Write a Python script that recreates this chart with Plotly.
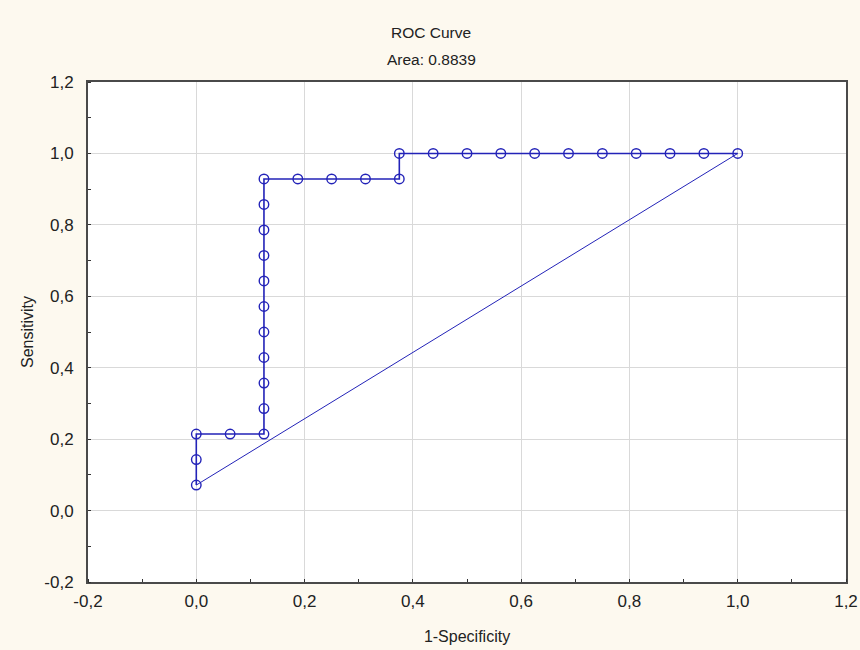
import plotly.graph_objects as go

# 1-Specificity (x) and Sensitivity (y) of the ROC points
fpr = [0.0, 0.0, 0.0, 0.0625, 0.125, 0.125, 0.125, 0.125, 0.125, 0.125, 0.125,
       0.125, 0.125, 0.125, 0.125, 0.1875, 0.25, 0.3125, 0.375, 0.375, 0.4375,
       0.5, 0.5625, 0.625, 0.6875, 0.75, 0.8125, 0.875, 0.9375, 1.0]
tpr = [0.0714, 0.1429, 0.2143, 0.2143, 0.2143, 0.2857, 0.3571, 0.4286, 0.5,
       0.5714, 0.6429, 0.7143, 0.7857, 0.8571, 0.9286, 0.9286, 0.9286, 0.9286,
       0.9286, 1.0, 1.0, 1.0, 1.0, 1.0, 1.0, 1.0, 1.0, 1.0, 1.0, 1.0]
ref_x = [0.0, 1.0]
ref_y = [0.0714, 1.0]
tick_vals = [-0.2, 0.0, 0.2, 0.4, 0.6, 0.8, 1.0, 1.2]
tick_text = [f"{v:.1f}".replace(".", ",") for v in tick_vals]

title_line1 = "ROC Curve"
title_line2 = "Area: 0.8839"
x_title = "1-Specificity"
y_title = "Sensitivity"

blue = "#2323B8"
font = "Liberation Sans, Arial, sans-serif"
txt = "#222222"

fig = go.Figure()
fig.add_trace(go.Scatter(x=ref_x, y=ref_y, mode="lines",
                         line=dict(color=blue, width=1), showlegend=False,
                         hoverinfo="skip"))
fig.add_trace(go.Scatter(x=fpr, y=tpr, mode="lines+markers",
                         line=dict(color=blue, width=1.6),
                         marker=dict(symbol="circle-open", size=9.5,
                                     color=blue, line=dict(width=1.4, color=blue)),
                         showlegend=False))

axis_common = dict(
    range=[-0.2, 1.2], tickvals=tick_vals, ticktext=tick_text,
    showgrid=True, gridcolor="#D9D9D9", gridwidth=1,
    showline=True, linecolor="#4A4A4A", linewidth=2, mirror=True,
    ticks="", zeroline=False,
    tickfont=dict(family=font, size=17, color=txt),
    minor=dict(dtick=0.1, tick0=-0.2, ticks="inside", ticklen=3,
               tickcolor="#333333", showgrid=False),
)

fig.update_layout(
    width=860, height=650,
    paper_bgcolor="#FDF9EF", plot_bgcolor="#FFFFFF",
    margin=dict(l=88, r=14, t=82, b=68, autoexpand=False),
    xaxis=dict(**axis_common, ticklabelstandoff=3,
               title=dict(text=x_title, standoff=20,
                          font=dict(family=font, size=16, color=txt))),
    yaxis=dict(**axis_common, ticklabelstandoff=9,
               title=dict(text=y_title, standoff=7,
                          font=dict(family=font, size=16, color=txt))),
    annotations=[
        dict(text=title_line1, xref="paper", yref="paper", x=0.453, y=1.098,
             xanchor="center", yanchor="middle", showarrow=False,
             font=dict(family=font, size=15.5, color=txt)),
        dict(text=title_line2, xref="paper", yref="paper", x=0.453, y=1.044,
             xanchor="center", yanchor="middle", showarrow=False,
             font=dict(family=font, size=15.5, color=txt)),
    ],
)

fig.write_html("out.html", config={"displayModeBar": False},
               post_script="document.body.style.margin='0px';")
